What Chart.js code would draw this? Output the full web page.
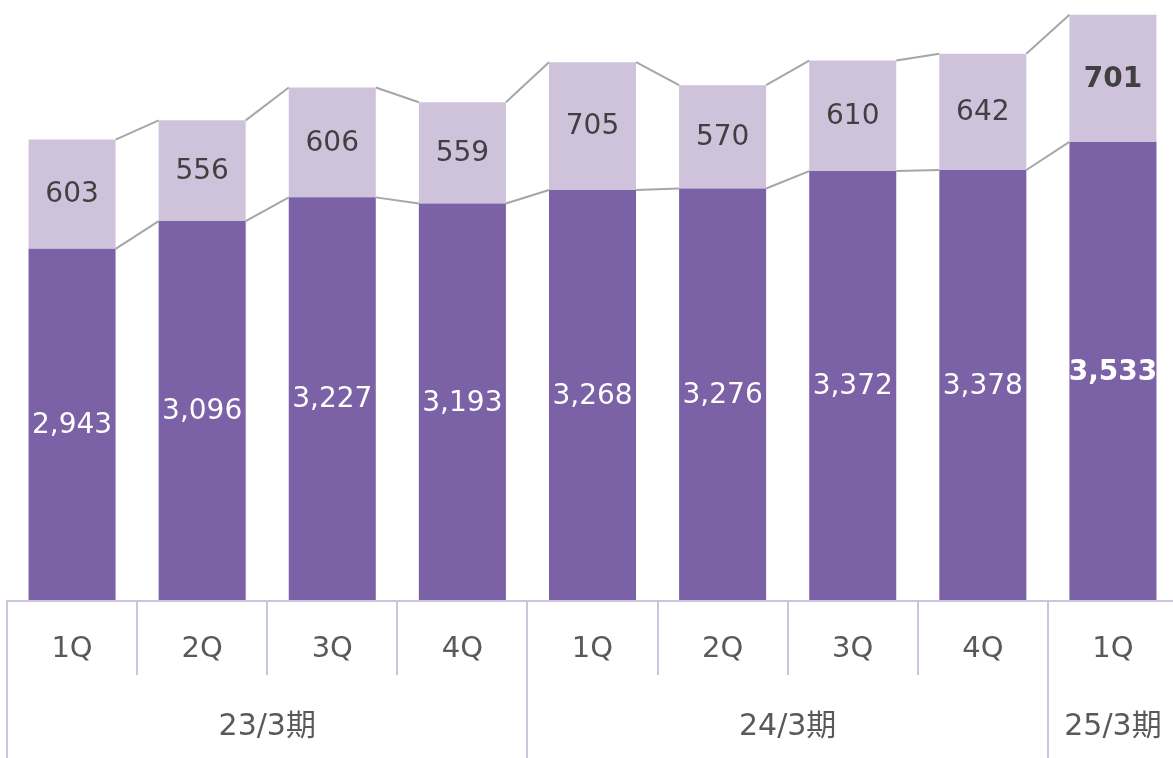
<!DOCTYPE html>
<html>
<head>
<meta charset="utf-8">
<script src="https://cdn.jsdelivr.net/npm/chart.js@4"></script>
<style>
  body { margin: 0; overflow: hidden; background: #fff; }
</style>
</head>
<body>
<canvas id="chart" width="1178" height="758"></canvas>
<script>
// quarters and fiscal year groups
const quarters = ['1Q', '2Q', '3Q', '4Q', '1Q', '2Q', '3Q', '4Q', '1Q'];
const periods = ['23/3期', '24/3期', '25/3期'];
const periodStart = [0, 4, 8];
const periodEnd = [3, 7, 8];

// series values
const lowerValues = [2943, 3096, 3227, 3193, 3268, 3276, 3372, 3378, 3533];
const upperValues = [603, 556, 606, 559, 705, 570, 610, 642, 701];

const FONT = '"DejaVu Sans", "Noto Sans CJK JP", sans-serif';

function fmt(v) {
    return v.toLocaleString('en-US');
}

const overlay = {
    id: 'overlay',
    afterDatasetsDraw: function (chart) {
        const ctx = chart.ctx;
        const area = chart.chartArea;
        const xs = chart.scales.x;
        const metas = [chart.getDatasetMeta(0), chart.getDatasetMeta(1)];
        const last = quarters.length - 1;

        // connector lines between bar tops
        ctx.save();
        ctx.strokeStyle = '#A6A6A6';
        ctx.lineWidth = 2;
        metas.forEach(function (m) {
            for (let i = 0; i < m.data.length - 1; i++) {
                let a = m.data[i], b = m.data[i + 1];
                ctx.beginPath();
                ctx.moveTo(a.x + a.width / 2, a.y);
                ctx.lineTo(b.x - b.width / 2, b.y);
                ctx.stroke();
            }
        });

        // value labels
        ctx.textAlign = 'center';
        ctx.textBaseline = 'middle';
        metas.forEach(function (m, d) {
            let values = d === 0 ? lowerValues : upperValues;
            for (let i = 0; i < m.data.length; i++) {
                let el = m.data[i];
                let bottom = Math.min(el.base, area.bottom);
                let cy = (el.y + bottom) / 2;
                ctx.font = (i === last ? 'bold ' : '') + '28px ' + FONT;
                ctx.fillStyle = d === 0 ? '#FFFFFF' : '#404040';
                ctx.fillText(fmt(values[i]), el.x, cy + 1);
            }
        });

        // category axis
        let cw = xs.getPixelForValue(1) - xs.getPixelForValue(0);
        let base = area.bottom;
        ctx.strokeStyle = '#CAC4DD';
        ctx.lineWidth = 2;
        ctx.beginPath();
        ctx.moveTo(area.left - 1, base);
        ctx.lineTo(area.right, base);
        ctx.stroke();
        for (let i = 0; i <= quarters.length; i++) {
            let bx = Math.round(xs.getPixelForValue(0) - cw / 2 + i * cw);
            let long = periodStart.indexOf(i) >= 0 || i === quarters.length;
            ctx.beginPath();
            ctx.moveTo(bx, base);
            ctx.lineTo(bx, long ? chart.height : base + 74);
            ctx.stroke();
        }

        ctx.fillStyle = '#595959';
        ctx.font = '29px ' + FONT;
        for (let i = 0; i < quarters.length; i++) {
            ctx.fillText(quarters[i], xs.getPixelForValue(i), base + 48);
        }
        ctx.font = '30px ' + FONT;
        for (let g = 0; g < periods.length; g++) {
            let cx = (xs.getPixelForValue(periodStart[g]) + xs.getPixelForValue(periodEnd[g])) / 2;
            ctx.fillText(periods[g], cx, base + 126);
        }
        ctx.restore();
    }
};

new Chart(document.getElementById('chart'), {
    type: 'bar',
    data: {
        labels: quarters,
        datasets: [
            {
                data: lowerValues,
                backgroundColor: '#7B61A6',
                barPercentage: 0.669,
                categoryPercentage: 1
            },
            {
                data: upperValues,
                backgroundColor: '#CEC3DB',
                barPercentage: 0.669,
                categoryPercentage: 1
            }
        ]
    },
    options: {
        responsive: false,
        animation: false,
        layout: {
            padding: { left: 7, right: 0, top: 0, bottom: 157 }
        },
        plugins: {
            legend: { display: false },
            tooltip: { enabled: false }
        },
        scales: {
            x: { stacked: true, display: false },
            y: { stacked: true, display: false, min: 1000, max: 4316 }
        }
    },
    plugins: [overlay]
});
</script>
</body>
</html>
